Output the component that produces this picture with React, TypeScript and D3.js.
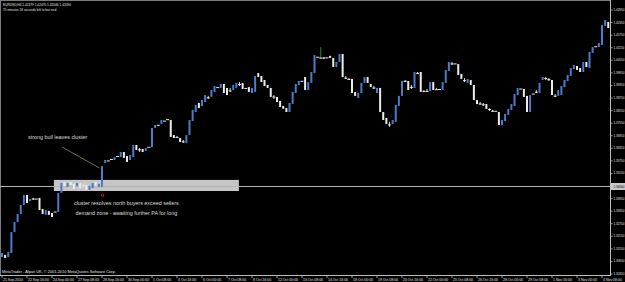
import React from 'react';
import * as d3 from 'd3';

const W = 625;
const H = 282;
const PLOT_R = 610;
const PLOT_B = 275;

// price range visible in the chart window
const priceTop = 1.43427;
const priceBottom = 1.30301;

// H4 candles: [open, high, low, close]
const bars: [number, number, number, number][] = [
  [1.3116,1.3135,1.3116,1.3135],[1.3126,1.3126,1.3111,1.3111],[1.3116,1.3140,1.3116,1.3140],[1.3135,1.3235,1.3135,1.3235],
  [1.3235,1.3283,1.3235,1.3283],[1.3283,1.3321,1.3283,1.3321],[1.3321,1.3364,1.3321,1.3364],[1.3364,1.3412,1.3364,1.3412],
  [1.3412,1.3412,1.3374,1.3374],[1.3383,1.3393,1.3383,1.3393],[1.3395,1.3398,1.3388,1.3393],[1.3393,1.3395,1.3393,1.3395],
  [1.3398,1.3398,1.3340,1.3340],[1.3345,1.3345,1.3321,1.3321],[1.3317,1.3340,1.3317,1.3340],[1.3336,1.3336,1.3317,1.3317],
  [1.3326,1.3326,1.3307,1.3307],[1.3331,1.3333,1.3331,1.3333],[1.3331,1.3422,1.3331,1.3422],[1.3422,1.3469,1.3422,1.3469],
  [1.3474,1.3474,1.3455,1.3455],[1.3450,1.3469,1.3450,1.3469],[1.3474,1.3474,1.3460,1.3460],[1.3465,1.3465,1.3441,1.3441],
  [1.3455,1.3469,1.3455,1.3469],[1.3469,1.3469,1.3445,1.3445],[1.3458,1.3465,1.3450,1.3456],[1.3460,1.3460,1.3436,1.3436],
  [1.3436,1.3455,1.3436,1.3455],[1.3445,1.3469,1.3445,1.3469],[1.3474,1.3474,1.3455,1.3455],[1.3450,1.3465,1.3450,1.3465],
  [1.3450,1.3550,1.3450,1.3550],[1.3565,1.3579,1.3565,1.3579],[1.3575,1.3577,1.3575,1.3577],[1.3582,1.3584,1.3582,1.3584],
  [1.3579,1.3593,1.3579,1.3593],[1.3596,1.3598,1.3596,1.3598],[1.3593,1.3617,1.3593,1.3617],[1.3617,1.3617,1.3589,1.3589],
  [1.3598,1.3598,1.3570,1.3570],[1.3579,1.3603,1.3579,1.3603],[1.3593,1.3651,1.3593,1.3651],[1.3651,1.3651,1.3627,1.3627],
  [1.3630,1.3636,1.3617,1.3628],[1.3632,1.3632,1.3617,1.3617],[1.3622,1.3636,1.3622,1.3636],[1.3640,1.3642,1.3640,1.3642],
  [1.3641,1.3732,1.3641,1.3732],[1.3732,1.3746,1.3732,1.3746],[1.3745,1.3747,1.3745,1.3747],[1.3751,1.3770,1.3751,1.3770],
  [1.3765,1.3767,1.3765,1.3767],[1.3772,1.3774,1.3772,1.3774],[1.3770,1.3770,1.3689,1.3689],[1.3698,1.3698,1.3684,1.3684],
  [1.3689,1.3694,1.3684,1.3687],[1.3684,1.3684,1.3665,1.3665],[1.3668,1.3675,1.3660,1.3666],[1.3660,1.3698,1.3660,1.3698],
  [1.3698,1.3770,1.3698,1.3770],[1.3765,1.3818,1.3765,1.3818],[1.3808,1.3842,1.3808,1.3842],[1.3851,1.3851,1.3827,1.3827],
  [1.3837,1.3865,1.3837,1.3865],[1.3856,1.3889,1.3856,1.3889],[1.3878,1.3885,1.3870,1.3876],[1.3880,1.3913,1.3880,1.3913],
  [1.3904,1.3932,1.3904,1.3932],[1.3925,1.3927,1.3925,1.3927],[1.3923,1.3942,1.3923,1.3942],[1.3942,1.3942,1.3899,1.3899],
  [1.3923,1.3923,1.3889,1.3889],[1.3911,1.3923,1.3904,1.3909],[1.3913,1.3937,1.3913,1.3937],[1.3923,1.3947,1.3923,1.3947],
  [1.3942,1.3951,1.3932,1.3940],[1.3947,1.3947,1.3918,1.3918],[1.3921,1.3923,1.3921,1.3923],[1.3927,1.3927,1.3904,1.3904],
  [1.3899,1.3923,1.3899,1.3923],[1.3904,1.3980,1.3904,1.3980],[1.3994,1.3994,1.3975,1.3975],[1.3980,1.3980,1.3951,1.3951],
  [1.3961,1.3961,1.3932,1.3932],[1.3937,1.3937,1.3923,1.3923],[1.3923,1.3923,1.3880,1.3880],[1.3882,1.3889,1.3870,1.3880],
  [1.3880,1.3880,1.3856,1.3856],[1.3861,1.3861,1.3832,1.3832],[1.3837,1.3837,1.3823,1.3823],[1.3827,1.3827,1.3808,1.3808],
  [1.3808,1.3851,1.3808,1.3851],[1.3846,1.3904,1.3846,1.3904],[1.3899,1.3942,1.3899,1.3942],[1.3937,1.3956,1.3937,1.3956],
  [1.3955,1.3957,1.3955,1.3957],[1.3975,1.3975,1.3913,1.3913],[1.3913,1.3951,1.3913,1.3951],[1.3947,1.3999,1.3947,1.3999],
  [1.3994,1.4080,1.3994,1.4080],[1.4070,1.4072,1.4070,1.4072],[1.4066,1.4118,1.4061,1.4068],[1.4068,1.4071,1.4061,1.4066],
  [1.4067,1.4069,1.4067,1.4069],[1.4076,1.4076,1.4066,1.4066],[1.4066,1.4066,1.4023,1.4023],[1.4023,1.4047,1.4023,1.4047],
  [1.4047,1.4085,1.4047,1.4085],[1.4085,1.4085,1.3975,1.3975],[1.3972,1.3980,1.3966,1.3970],[1.3966,1.3970,1.3961,1.3964],
  [1.3966,1.3966,1.3899,1.3899],[1.3904,1.3904,1.3885,1.3885],[1.3875,1.3899,1.3875,1.3899],[1.3899,1.3947,1.3899,1.3947],
  [1.3947,1.3975,1.3947,1.3975],[1.3975,1.3975,1.3947,1.3947],[1.3942,1.3942,1.3927,1.3927],[1.3925,1.3932,1.3918,1.3923],
  [1.3899,1.3923,1.3899,1.3923],[1.3923,1.3923,1.3808,1.3808],[1.3808,1.3808,1.3770,1.3770],[1.3780,1.3780,1.3751,1.3751],
  [1.3749,1.3761,1.3737,1.3747],[1.3751,1.3770,1.3751,1.3770],[1.3761,1.3842,1.3761,1.3842],[1.3837,1.3885,1.3837,1.3885],
  [1.3885,1.3956,1.3885,1.3956],[1.3957,1.3961,1.3951,1.3955],[1.3956,1.3956,1.3913,1.3913],[1.3928,1.3937,1.3918,1.3926],
  [1.3923,1.3999,1.3923,1.3999],[1.3995,1.3999,1.3990,1.3993],[1.3999,1.3999,1.3904,1.3904],[1.3908,1.3913,1.3904,1.3906],
  [1.3909,1.3918,1.3904,1.3907],[1.3908,1.3951,1.3908,1.3951],[1.3951,1.3951,1.3913,1.3913],[1.3917,1.3923,1.3913,1.3915],
  [1.3916,1.3918,1.3916,1.3918],[1.3913,1.3951,1.3913,1.3951],[1.3947,1.4009,1.3947,1.4009],[1.4004,1.4047,1.4004,1.4047],
  [1.4040,1.4047,1.4032,1.4038],[1.4038,1.4040,1.4038,1.4040],[1.4037,1.4037,1.3985,1.3985],[1.3990,1.3990,1.3966,1.3966],
  [1.3960,1.3970,1.3951,1.3958],[1.3947,1.3966,1.3947,1.3966],[1.3961,1.3961,1.3937,1.3937],[1.3937,1.3937,1.3865,1.3865],
  [1.3865,1.3865,1.3846,1.3846],[1.3849,1.3856,1.3842,1.3847],[1.3845,1.3851,1.3837,1.3843],[1.3846,1.3846,1.3823,1.3823],
  [1.3822,1.3827,1.3813,1.3820],[1.3814,1.3818,1.3808,1.3812],[1.3812,1.3814,1.3812,1.3814],[1.3808,1.3808,1.3746,1.3746],
  [1.3746,1.3770,1.3746,1.3770],[1.3765,1.3799,1.3765,1.3799],[1.3794,1.3823,1.3794,1.3823],[1.3818,1.3846,1.3818,1.3846],
  [1.3837,1.3894,1.3837,1.3894],[1.3889,1.3923,1.3889,1.3923],[1.3918,1.3920,1.3918,1.3920],[1.3918,1.3918,1.3880,1.3880],
  [1.3885,1.3885,1.3808,1.3808],[1.3808,1.3889,1.3808,1.3889],[1.3894,1.3896,1.3894,1.3896],[1.3905,1.3913,1.3899,1.3903],
  [1.3899,1.3947,1.3899,1.3947],[1.3961,1.3975,1.3961,1.3975],[1.3970,1.3975,1.3961,1.3968],[1.3965,1.3970,1.3956,1.3963],
  [1.3961,1.3961,1.3889,1.3889],[1.3886,1.3894,1.3880,1.3884],[1.3885,1.3913,1.3885,1.3913],[1.3889,1.3932,1.3889,1.3932],
  [1.3927,1.3961,1.3927,1.3961],[1.3956,1.3985,1.3956,1.3985],[1.3980,1.4018,1.3980,1.4018],[1.4013,1.4032,1.4013,1.4032],
  [1.4028,1.4028,1.4009,1.4009],[1.4018,1.4018,1.3999,1.3999],[1.3999,1.4047,1.3999,1.4047],[1.4047,1.4047,1.4023,1.4023],
  [1.4018,1.4095,1.4018,1.4095],[1.4090,1.4118,1.4090,1.4118],[1.4120,1.4122,1.4120,1.4122],[1.4118,1.4137,1.4118,1.4137],
  [1.4128,1.4223,1.4128,1.4223],[1.4219,1.4247,1.4219,1.4247],[1.4238,1.4238,1.4209,1.4209],
];

const xLabels = [
  '21 Sep 2010', '22 Sep 16:00', '24 Sep 00:00', '27 Sep 08:00', '28 Sep 16:00', '30 Sep 00:00',
  '1 Oct 08:00', '4 Oct 16:00', '6 Oct 00:00', '7 Oct 08:00', '8 Oct 16:00', '12 Oct 00:00',
  '13 Oct 08:00', '14 Oct 16:00', '18 Oct 00:00', '19 Oct 08:00', '20 Oct 16:00', '22 Oct 00:00',
  '25 Oct 08:00', '26 Oct 16:00', '28 Oct 00:00', '29 Oct 08:00', '1 Nov 16:00', '3 Nov 00:00', '4 Nov 08:00',
];
const barsPerXLabel = 8;

const yLabels = [
  '1.42950', '1.42350', '1.41750', '1.41150', '1.40550', '1.39950', '1.39350', '1.38750',
  '1.38150', '1.37550', '1.36950', '1.36350', '1.35750', '1.35150', '1.34550', '1.33950',
  '1.33350', '1.32750', '1.32150', '1.31550', '1.30950', '1.30350',
];

const levelPrice = 1.3456;
const levelLabel = '1.34560';

// demand zone in chart coords (bar index, price)
const zoneBars = [16.6, 75.8];
const zonePrices = [1.3484, 1.3431];

// trend line "strong bull leaves cluster"
const arrowBars = [19.2, 31.2];
const arrowPrices = [1.3641, 1.3541];

const markerBar = 32.2;
const markerPrice = 1.3412;

const notes = [
  { text: 'strong bull leaves cluster', bar: 17.8, price: 1.3679 },
  { text: 'cluster resolves north buyers exceed sellers', bar: 39.8, price: 1.3364 },
  { text: 'demand zone - awaiting further PA for long', bar: 39.8, price: 1.3317 },
];

const titleLines = ['EURUSD,H4  1.42379 1.42470 1.42046 1.42090', '75 minutes 18 seconds left to bar end'];
const footer = 'MetaTrader - Alpari UK, \u00A9 2001-2010 MetaQuotes Software Corp.';

const BULL = '#4a7cc8';
const BEAR = '#ececec';
const FONT = "'Liberation Sans', Arial, sans-serif";

export default function App() {
  const x = d3.scaleLinear().domain([0, 192]).range([2, 602]);
  const y = d3.scaleLinear().domain([priceBottom, priceTop]).range([PLOT_B, 0]);
  const bw = 2;
  const levelY = Math.round(y(levelPrice)) + 0.5;

  return (
    <>
      <style>{`html,body{margin:0;padding:0;background:#000;}`}</style>
      <svg width={W} height={H} style={{ display: 'block' }} fontFamily={FONT}>
        <rect width={W} height={H} fill="#000" />
        {/* frame */}
        <line x1={0.5} x2={0.5} y1={0} y2={PLOT_B} stroke="#7a7a7a" />
        <line x1={0} x2={PLOT_R} y1={0.5} y2={0.5} stroke="#7a7a7a" />

        {/* demand zone */}
        <rect
          x={x(zoneBars[0])}
          y={y(zonePrices[0])}
          width={x(zoneBars[1]) - x(zoneBars[0])}
          height={y(zonePrices[1]) - y(zonePrices[0])}
          fill="#c6c6c6"
        />

        {/* horizontal level */}
        <line x1={0} x2={PLOT_R} y1={levelY} y2={levelY} stroke="#b4b4b4" strokeWidth={1} />

        {/* candles */}
        {bars.map(([o, h, l, c], i) => {
          const cx = x(i);
          const bull = c > o;
          const col = bull ? BULL : BEAR;
          const wick = bull ? '#2f9a2f' : BEAR;
          const top = y(Math.max(o, c));
          const bot = y(Math.min(o, c));
          const bh = Math.max(1, bot - top);
          const doji = bot - top < 1.2;
          return (
            <g key={i}>
              {(h > Math.max(o, c) || l < Math.min(o, c)) && (
                <line x1={cx} x2={cx} y1={y(h)} y2={y(l)} stroke={wick} strokeWidth={0.9} />
              )}
              <rect
                x={cx - (doji ? 1.5 : bw / 2)}
                y={top}
                width={doji ? 3 : bw}
                height={bh}
                fill={doji ? BEAR : col}
              />
            </g>
          );
        })}

        {/* trend line */}
        <line
          x1={x(arrowBars[0])}
          y1={y(arrowPrices[0])}
          x2={x(arrowBars[1])}
          y2={y(arrowPrices[1])}
          stroke="#8f8f45"
          strokeWidth={0.8}
        />

        {/* red marker */}
        <circle cx={x(markerBar)} cy={y(markerPrice)} r={1.2} fill="none" stroke="#d02020" strokeWidth={0.8} />
        <line x1={x(markerBar) + 1.1} x2={x(markerBar) + 0.6} y1={y(markerPrice)} y2={y(markerPrice) + 2.2} stroke="#d02020" strokeWidth={0.8} />

        {/* annotations */}
        {notes.map((n, i) => (
          <text key={i} x={x(n.bar)} y={y(n.price)} fontSize={5.4} fill="#dcdcdc" textAnchor="middle">
            {n.text}
          </text>
        ))}

        {/* title */}
        {titleLines.map((t, i) => (
          <text key={i} x={3} y={6 + i * 4.6} fontSize={3.2} fill="#e0e0e0">
            {t}
          </text>
        ))}

        {/* footer */}
        <text x={2} y={273} fontSize={3.9} fill="#e0e0e0">
          {footer}
        </text>

        {/* axes */}
        <line x1={PLOT_R + 0.5} x2={PLOT_R + 0.5} y1={0} y2={PLOT_B} stroke="#bdbdbd" />
        <line x1={0} x2={PLOT_R + 1} y1={PLOT_B + 0.5} y2={PLOT_B + 0.5} stroke="#bdbdbd" />

        {yLabels.map((lab) => {
          const yy = y(+lab);
          return (
            <g key={lab}>
              <line x1={PLOT_R} x2={PLOT_R + 2.5} y1={yy} y2={yy} stroke="#bdbdbd" strokeWidth={0.8} />
              <text x={PLOT_R + 3.5} y={yy} dy="0.35em" fontSize={3} fill="#e0e0e0">
                {lab}
              </text>
            </g>
          );
        })}

        {/* level price tag */}
        <rect x={PLOT_R + 1} y={levelY - 3.5} width={W - PLOT_R - 1} height={7} fill="#c8c8c8" />
        <text x={PLOT_R + 3.5} y={levelY} dy="0.35em" fontSize={3} fill="#000">
          {levelLabel}
        </text>

        {xLabels.map((lab, k) => {
          const xx = x(k * barsPerXLabel);
          return (
            <g key={lab}>
              <line x1={xx} x2={xx} y1={PLOT_B} y2={PLOT_B + 3} stroke="#bdbdbd" strokeWidth={0.8} />
              <text x={xx + 1} y={281} fontSize={3.5} fill="#e0e0e0">
                {lab}
              </text>
            </g>
          );
        })}
      </svg>
    </>
  );
}
